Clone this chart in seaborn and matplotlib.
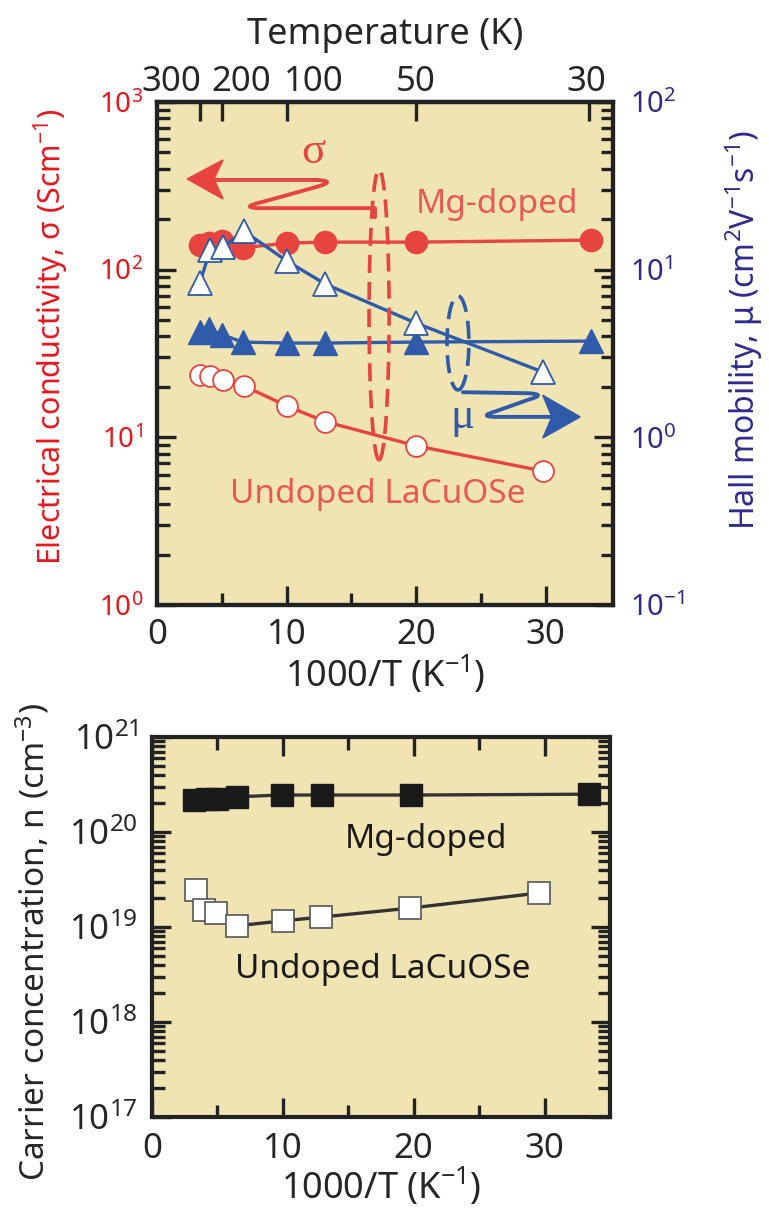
import matplotlib
matplotlib.use("Agg")
import matplotlib.pyplot as plt
import matplotlib.transforms as mtransforms
import seaborn as sns
from matplotlib.patches import Ellipse, PathPatch, Polygon
from matplotlib.path import Path
from matplotlib.ticker import LogLocator, NullFormatter, FixedLocator

# ---------------- data ----------------
# inverse temperature, 1000/T (K^-1)
invT_mg = [3.3, 4.0, 5.0, 6.6, 10.0, 13.0, 20.0, 33.5]
invT_un = [3.3, 4.1, 5.1, 6.7, 10.0, 13.0, 20.0, 29.8]
# electrical conductivity (S cm^-1)
sigma_mg = [140, 145, 148, 135, 144, 146, 146, 150]
sigma_un = [23.6, 23.3, 22.0, 20.3, 15.4, 12.4, 8.9, 6.3]
# Hall mobility (cm^2 V^-1 s^-1)
mu_mg = [4.25, 4.4, 4.1, 3.7, 3.65, 3.65, 3.7, 3.75]
mu_un = [8.3, 13.1, 13.6, 17.0, 11.3, 8.2, 4.8, 2.45]
# carrier concentration (cm^-3)
invT_n_mg = [3.2, 4.2, 5.0, 6.5, 9.9, 13.0, 19.8, 33.4]
n_mg = [2.15e20, 2.2e20, 2.25e20, 2.35e20, 2.45e20, 2.45e20, 2.45e20, 2.5e20]
invT_n_un = [3.4, 4.0, 4.9, 6.5, 10.0, 12.9, 19.7, 29.6]
n_un = [2.45e19, 1.51e19, 1.40e19, 1.03e19, 1.16e19, 1.27e19, 1.58e19, 2.28e19]
# temperature scale on the top axis (K) and label nudges (1000/T units)
temp_ticks = [300, 200, 100, 50, 30]
temp_label_shift = [-2.2, 1.5, 2.1, 0.0, -0.15]

# ---------------- style ----------------
sns.set_style("ticks")
plt.rcParams["font.family"] = ["Noto Sans", "DejaVu Sans"]
plt.rcParams["mathtext.fontset"] = "custom"
plt.rcParams["mathtext.rm"] = "Noto Sans"
plt.rcParams["mathtext.it"] = "Noto Sans:italic"
plt.rcParams["mathtext.bf"] = "Noto Sans:bold"
plt.rcParams["mathtext.default"] = "regular"

BG = "#EFE4B2"
RED = "#E8443F"
RED_TXT = "#E85856"
RED_AX = "#E8161C"
BLUE = "#2F5BAA"
NAVY = "#2D2C8E"
SPINE = "#222222"

MAJ_LEN, MIN_LEN, TICK_W = 14, 9, 2.4

fig = plt.figure(figsize=(7.69, 12.10), dpi=100)

def style_axes(a):
    a.set_facecolor(BG)
    for s in a.spines.values():
        s.set_linewidth(3.0)
        s.set_color(SPINE)

# ================= top panel: sigma and mu =================
ax = fig.add_axes([157 / 769, 1 - 605 / 1210, 456 / 769, 503 / 1210])
style_axes(ax)
ax.set_yscale("log")
ax.set_xlim(0, 35.2)
ax.set_ylim(1, 1e3)

sns.lineplot(x=invT_mg, y=sigma_mg, ax=ax, color=RED, lw=2.4, marker="o",
             markersize=16, markerfacecolor=RED, markeredgecolor=RED,
             markeredgewidth=1, estimator=None, sort=False, zorder=3)
sns.lineplot(x=invT_un, y=sigma_un, ax=ax, color=RED, lw=2.4, marker="o",
             markersize=15, markerfacecolor="white", markeredgecolor=RED,
             markeredgewidth=1.3, estimator=None, sort=False, zorder=3)

ax.xaxis.set_major_locator(FixedLocator([10, 20, 30]))
ax.xaxis.set_minor_locator(FixedLocator([5, 15, 25]))
ax.yaxis.set_major_locator(LogLocator(base=10, numticks=10))
ax.yaxis.set_minor_locator(LogLocator(base=10, subs=range(2, 10), numticks=20))
ax.yaxis.set_minor_formatter(NullFormatter())
ax.tick_params(axis="both", which="major", direction="in", length=MAJ_LEN,
               width=TICK_W, color=SPINE, top=False, right=False)
ax.tick_params(axis="both", which="minor", direction="in", length=MIN_LEN,
               width=TICK_W, color=SPINE, top=False, right=False)
ax.tick_params(axis="x", labelsize=25, pad=9)
ax.tick_params(axis="y", labelsize=20, labelcolor=RED_AX, pad=10)
blend = mtransforms.blended_transform_factory(ax.transData, ax.transAxes)
ax.text(0, -0.025, "0", transform=blend, ha="center", va="top", fontsize=25)
ax.set_xlabel("1000/T (K$^{-1}$)", fontsize=26, labelpad=2)
ax.set_ylabel("Electrical conductivity, σ (Scm$^{-1}$)", fontsize=22, color=RED_AX)
ax.yaxis.set_label_coords(-0.232, 0.533)
ax.yaxis.label.set_va("center")

# right axis: Hall mobility
ax2 = ax.twinx()
ax2.set_yscale("log")
ax2.set_ylim(0.1, 100)
for s in ax2.spines.values():
    s.set_linewidth(3.0)
    s.set_color(SPINE)
sns.lineplot(x=invT_mg, y=mu_mg, ax=ax2, color=BLUE, lw=2.4, marker="^",
             markersize=17, markerfacecolor=BLUE, markeredgecolor=BLUE,
             markeredgewidth=1, estimator=None, sort=False, zorder=4)
sns.lineplot(x=invT_un, y=mu_un, ax=ax2, color=BLUE, lw=2.4, marker="^",
             markersize=17, markerfacecolor="white", markeredgecolor=BLUE,
             markeredgewidth=1.3, estimator=None, sort=False, zorder=5)
ax2.yaxis.set_major_locator(LogLocator(base=10, numticks=10))
ax2.yaxis.set_minor_locator(LogLocator(base=10, subs=range(2, 10), numticks=20))
ax2.yaxis.set_minor_formatter(NullFormatter())
ax2.tick_params(axis="y", which="major", direction="in", length=MAJ_LEN,
                width=TICK_W, color=SPINE, labelsize=21, labelcolor=NAVY, pad=12)
ax2.tick_params(axis="y", which="minor", direction="in", length=MIN_LEN,
                width=TICK_W, color=SPINE)
ax2.set_ylabel("Hall mobility, μ (cm$^{2}$V$^{-1}$s$^{-1}$)", fontsize=23, color=NAVY)
ax2.yaxis.set_label_coords(1.288, 0.547)
ax2.yaxis.label.set_va("center")

# top axis: temperature
sec = ax.secondary_xaxis("top")
sec.set_xticks([1000 / t for t in temp_ticks])
sec.tick_params(axis="x", direction="in", length=MAJ_LEN, width=TICK_W,
                color=SPINE, labeltop=False)
sec.spines["top"].set_linewidth(3.0)
sec.spines["top"].set_color(SPINE)
sec.set_xlabel("Temperature (K)", fontsize=26, labelpad=42)
for t, dx in zip(temp_ticks, temp_label_shift):
    ax.text(1000 / t + dx, 1.022, str(t), transform=blend, ha="center",
            va="baseline", fontsize=25)

# annotations: dashed ellipses with arrows
A = ax2.transAxes
ax2.add_patch(Ellipse((0.487, 0.577), 0.044, 0.577, transform=A, fill=False,
                      ec=RED, lw=2.6, ls=(0, (5, 2.5)), zorder=6))
ax2.add_patch(Ellipse((0.660, 0.521), 0.048, 0.187, transform=A, fill=False,
                      ec=BLUE, lw=2.6, ls=(0, (5, 2.5)), zorder=6))

M, L, C = Path.MOVETO, Path.LINETO, Path.CURVE3
sig_path = Path([(0.478, 0.771), (0.478, 0.789), (0.221, 0.789), (0.182, 0.791),
                 (0.230, 0.801), (0.349, 0.831), (0.397, 0.843), (0.349, 0.845),
                 (0.127, 0.845)],
                [M, L, L, C, C, L, C, C, L])
ax2.add_patch(PathPatch(sig_path, transform=A, fill=False, ec=RED, lw=2.8,
                        capstyle="round", joinstyle="round", zorder=6))
ax2.add_patch(Polygon([(0.066, 0.847), (0.145, 0.885), (0.125, 0.847), (0.145, 0.807)],
                      closed=True, transform=A, fc=RED, ec=RED, lw=1, zorder=6))

mu_path = Path([(0.671, 0.423), (0.814, 0.421), (0.857, 0.419), (0.814, 0.408),
                (0.746, 0.386), (0.700, 0.374), (0.746, 0.374), (0.873, 0.374)],
               [M, L, C, C, L, C, C, L])
ax2.add_patch(PathPatch(mu_path, transform=A, fill=False, ec=BLUE, lw=2.8,
                        capstyle="round", joinstyle="round", zorder=6))
ax2.add_patch(Polygon([(0.928, 0.374), (0.846, 0.417), (0.866, 0.374), (0.846, 0.332)],
                      closed=True, transform=A, fc=BLUE, ec=BLUE, lw=1, zorder=6))

ax2.text(0.342, 0.90, "σ", transform=A, ha="center", va="center", fontsize=32,
         color=RED, family=["Liberation Serif", "DejaVu Serif"], zorder=7)
ax2.text(0.669, 0.352, "μ", transform=A, ha="center", va="baseline", fontsize=32,
         color=BLUE, family=["Liberation Serif", "DejaVu Serif"], zorder=7)
ax2.text(0.746, 0.779, "Mg-doped", transform=A, ha="center", va="baseline",
         fontsize=24, color=RED_TXT, zorder=7)
ax2.text(0.484, 0.203, "Undoped LaCuOSe", transform=A, ha="center", va="baseline",
         fontsize=24, color=RED_TXT, zorder=7)

# ================= bottom panel: carrier concentration =================
bx = fig.add_axes([152 / 769, 1 - 1117 / 1210, 458 / 769, 380 / 1210])
style_axes(bx)
bx.set_yscale("log")
bx.set_xlim(0, 35)
bx.set_ylim(1e17, 1e21)
sns.lineplot(x=invT_n_mg, y=n_mg, ax=bx, color="#333333", lw=2.4, marker="s",
             markersize=16, markerfacecolor="#1a1a1a", markeredgecolor="#1a1a1a",
             markeredgewidth=1, estimator=None, sort=False, zorder=3)
sns.lineplot(x=invT_n_un, y=n_un, ax=bx, color="#333333", lw=2.4, marker="s",
             markersize=16, markerfacecolor="white", markeredgecolor="#555555",
             markeredgewidth=1.2, estimator=None, sort=False, zorder=3)
bx.xaxis.set_major_locator(FixedLocator([0, 10, 20, 30]))
bx.xaxis.set_minor_locator(FixedLocator([5, 15, 25]))
bx.yaxis.set_major_locator(LogLocator(base=10, numticks=10))
bx.yaxis.set_minor_locator(LogLocator(base=10, subs=range(2, 10), numticks=20))
bx.yaxis.set_minor_formatter(NullFormatter())
bx.tick_params(axis="both", which="major", direction="in", length=MAJ_LEN,
               width=TICK_W, color=SPINE, top=True, right=True)
bx.tick_params(axis="both", which="minor", direction="in", length=MIN_LEN,
               width=TICK_W, color=SPINE, top=True, right=True)
bx.tick_params(axis="x", labelsize=25, pad=11)
bx.tick_params(axis="y", labelsize=25, pad=10)
bx.set_xlabel("1000/T (K$^{-1}$)", fontsize=26, labelpad=0)
bx.set_ylabel("Carrier concentration, n (cm$^{-3}$)", fontsize=24)
bx.yaxis.set_label_coords(-0.26, 0.46)
bx.yaxis.label.set_va("center")
bx.text(0.598, 0.708, "Mg-doped", transform=bx.transAxes, ha="center",
        va="baseline", fontsize=24, color="#1a1a1a")
bx.text(0.504, 0.366, "Undoped LaCuOSe", transform=bx.transAxes, ha="center",
        va="baseline", fontsize=24, color="#1a1a1a")

fig.savefig("out.png", dpi=100, facecolor="white")
